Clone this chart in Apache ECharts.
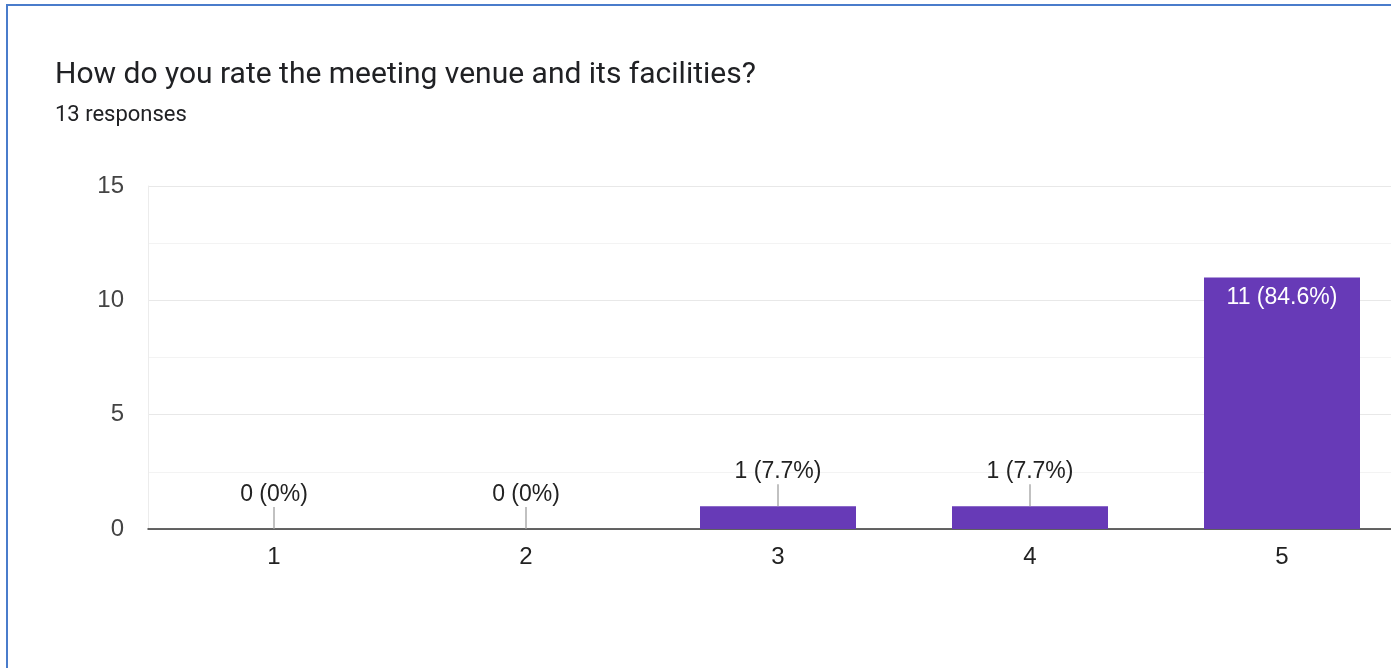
<!DOCTYPE html>
<html>
<head>
<meta charset="utf-8">
<style>
  html, body { margin: 0; padding: 0; background: #fff; overflow: hidden; }
  #frame { position: absolute; left: 6px; top: 4px; width: 1400px; height: 700px;
           border-left: 2px solid #4a7ccb; border-top: 2px solid #4a7ccb; box-sizing: border-box; pointer-events: none; z-index: 2; }
  #chart { position: absolute; left: 0; top: 0; width: 1391px; height: 668px; }
</style>
<script src="https://cdn.jsdelivr.net/npm/echarts@6/dist/echarts.min.js"></script>
</head>
<body>
<div id="frame"></div>
<div id="chart"></div>
<script>
const titleText = 'How do you rate the meeting venue and its facilities?';
const subtitleText = '13 responses';
const categories = ['1', '2', '3', '4', '5'];
const counts = [0, 0, 1, 1, 11];
const yTicks = [0, 5, 10, 15];

const total = counts.reduce((a, b) => a + b, 0);
function pctLabel(v) {
  let p = (v / total * 100).toFixed(1);
  if (p.endsWith('.0')) p = p.slice(0, -2);
  return v + ' (' + p + '%)';
}

const chart = echarts.init(document.getElementById('chart'), null, { renderer: 'canvas' });
const labelFont = '"Liberation Sans", Arial, sans-serif';

chart.setOption({
  animation: false,
  title: {
    text: titleText,
    subtext: subtitleText,
    left: 55,
    top: 60,
    padding: 0,
    itemGap: 14,
    textStyle: { fontFamily: 'Roboto, sans-serif', fontSize: 30, fontWeight: 'normal', color: '#202124' },
    subtextStyle: { fontFamily: 'Roboto, sans-serif', fontSize: 22, color: '#202124' }
  },
  grid: { left: 148, top: 186, width: 1260, height: 343, containLabel: false, outerBoundsMode: 'none' },
  xAxis: {
    type: 'category',
    data: categories,
    axisLine: { lineStyle: { color: '#333', width: 1.5 } },
    axisTick: { show: false },
    axisLabel: { color: '#222', fontSize: 24, fontFamily: labelFont, margin: 16 }
  },
  yAxis: {
    type: 'value',
    min: 0, max: 15, interval: 2.5,
    axisLine: { show: true, lineStyle: { color: '#ececec' } },
    axisTick: { show: false },
    axisLabel: {
      color: '#444', fontSize: 24, fontFamily: labelFont, margin: 24,
      formatter: v => (yTicks.indexOf(v) >= 0 ? String(v) : '')
    },
    splitLine: { lineStyle: { color: ['#e8e8e8', '#f3f3f3'], width: 1.2 } }
  },
  series: [
    {
      type: 'bar',
      data: counts,
      barWidth: 156,
      itemStyle: { color: '#673ab7' },
      label: {
        show: true,
        position: 'insideTop',
        distance: 9,
        color: '#fff',
        fontSize: 23,
        fontFamily: labelFont,
        formatter: p => (p.value >= 3 ? pctLabel(p.value) : '')
      }
    },
    {
      type: 'custom',
      data: counts.map((v, i) => [i, v]),
      renderItem: function (params, api) {
        const v = api.value(1);
        if (v >= 3) return null;
        const pt = api.coord([api.value(0), v]);
        return {
          type: 'group',
          children: [
            { type: 'line', shape: { x1: pt[0], y1: pt[1] - 22, x2: pt[0], y2: pt[1] },
              style: { stroke: '#a0a0a0', lineWidth: 1.3 } },
            { type: 'text', x: pt[0], y: pt[1] - 34,
              style: { text: pctLabel(v), fill: '#222', fontSize: 23, fontFamily: labelFont,
                       align: 'center', verticalAlign: 'middle' } }
          ]
        };
      },
      z: 5
    }
  ]
});
</script>
</body>
</html>
